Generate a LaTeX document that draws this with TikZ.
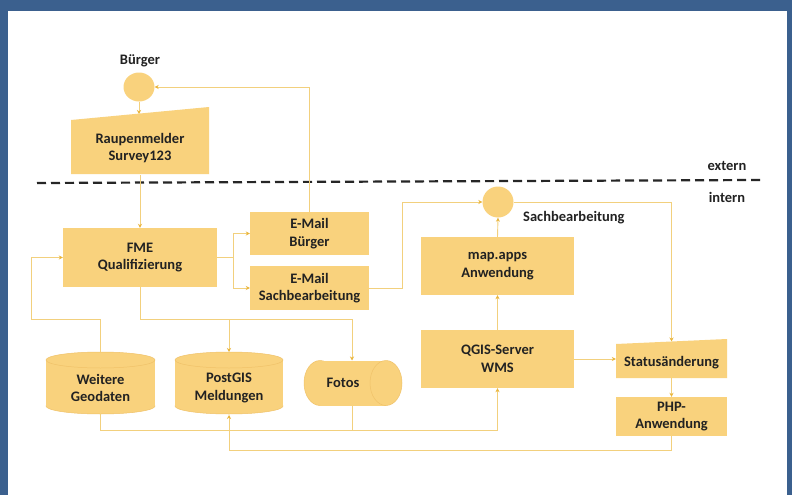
\documentclass[tikz,border=0pt]{standalone}
\usepackage{fontspec}
\setmainfont{Carlito}
\usetikzlibrary{arrows.meta,shapes.geometric}
\definecolor{bgblue}{RGB}{59,96,142}
\definecolor{boxfill}{RGB}{249,210,125}
\definecolor{boxedge}{RGB}{240,194,105}
\definecolor{linecol}{RGB}{242,208,125}
\definecolor{tipcol}{RGB}{234,182,60}
\definecolor{txt}{RGB}{34,34,34}
\tikzset{
  box/.style={draw=none,fill=boxfill,rectangle,inner sep=0pt,align=center,
    font=\fontsize{14.5}{17.5}\selectfont\bfseries,text=txt},
  lbl/.style={inner sep=0pt,align=center,font=\fontsize{14.5}{17.5}\selectfont\bfseries,text=txt},
  conn/.style={draw=linecol,line width=0.9pt,-{Stealth[length=4pt,width=4pt,color=tipcol]}},
  plain/.style={draw=linecol,line width=0.9pt},
  cylfill/.style={fill=boxfill,draw=boxedge,line width=0.5pt}
}
\begin{document}
\begin{tikzpicture}[x=1pt,y=-1pt]
\fill[bgblue] (0,0) rectangle (792,495);
\fill[white] (8,11) rectangle (787,495);
\useasboundingbox (0,0) rectangle (792,495);

% dashed separator
\draw[black!85,line width=2.2pt,dash pattern=on 9pt off 5pt] (37,183) -- (760,180);
\node[lbl] (ext) at (727,166) {extern};
\node[lbl] (int) at (727,197) {intern};

% Buerger
\node[lbl] (buergerlbl) at (140,61) {Bürger};
\node[fill=boxfill,ellipse,minimum width=31pt,minimum height=29pt,inner sep=0pt] (buerger) at (139,87) {};

% Raupenmelder (manual input)
\fill[boxfill] (71,120) -- (209,107) -- (209,174) -- (71,174) -- cycle;
\node[lbl,minimum width=138pt,minimum height=54pt] (raupen) at (140,148) {Raupenmelder\\Survey123};
\coordinate (raupentop) at (139,114);

% boxes
\node[box,minimum width=154pt,minimum height=59pt] (fme) at (140,257.5) {FME\\Qualifizierung};
\node[box,minimum width=119pt,minimum height=43pt] (emb) at (309.5,233.5) {E-Mail\\Bürger};
\node[box,minimum width=119pt,minimum height=44pt] (ems) at (309.5,288) {E-Mail\\Sachbearbeitung};
\node[box,minimum width=153pt,minimum height=58pt] (mapapps) at (497.5,266) {map.apps\\Anwendung};
\node[box,minimum width=153pt,minimum height=58pt] (qgis) at (497.5,359) {QGIS-Server\\WMS};
\node[box,minimum width=111pt,minimum height=39pt] (php) at (671.5,416.5) {PHP-\\Anwendung};

% Sachbearbeitung
\node[fill=boxfill,circle,minimum size=31pt,inner sep=0pt] (sach) at (498,202) {};
\node[lbl,anchor=west] (sachlbl) at (523,218) {Sachbearbeitung};

% Statusaenderung (manual input)
\fill[boxfill] (616,344) -- (727,339) -- (727,378) -- (616,378) -- cycle;
\node[lbl,minimum width=111pt,minimum height=30pt] (status) at (671.5,363) {Statusänderung};
\coordinate (stattop) at (671.5,341.5);

% cylinders: Weitere Geodaten
\filldraw[cylfill] (100.5,406) ellipse [x radius=54.5, y radius=8];
\fill[boxfill] (46,360) rectangle (155,406);
\filldraw[cylfill] (100.5,360) ellipse [x radius=54.5, y radius=8];
\node[lbl] (weitere) at (100.5,388) {Weitere\\Geodaten};
\coordinate (wtop) at (100,352);
\coordinate (wbot) at (100,414);

% PostGIS
\filldraw[cylfill] (229,406) ellipse [x radius=54, y radius=8];
\fill[boxfill] (175,360) rectangle (283,406);
\filldraw[cylfill] (229,360) ellipse [x radius=54, y radius=8];
\node[lbl] (postgis) at (229,388) {PostGIS\\Meldungen};
\coordinate (pgtop) at (229,352);
\coordinate (pgbot) at (229,415);

% Fotos (horizontal)
\filldraw[cylfill] (320,383) ellipse [x radius=16, y radius=22.5];
\fill[boxfill] (320,360.5) rectangle (386,405.5);
\filldraw[cylfill] (386,383) ellipse [x radius=16, y radius=22.5];
\node[lbl] (fotos) at (343,383) {Fotos};
\coordinate (ftop) at (352,360.5);
\coordinate (fbot) at (352,405.5);

% connectors
\draw[conn] (buerger.south) -- (raupentop);
\draw[conn] (raupen.south) -- (fme.north);
\draw[conn] (emb.north) |- (buerger.east);
\coordinate (fsplit) at (233,257.5);
\draw[plain] (fme.east) -- (fsplit);
\draw[conn] (fsplit) |- (emb.west);
\draw[conn] (fsplit) |- (ems.west);
\draw[conn] (ems.east) -- (402,288) |- (sach.west);
\draw[conn] (sach.east) -| (stattop);
\draw[conn] (mapapps.north) -- (sach.south);
\draw[conn] (qgis.north) -- (mapapps.south);
\draw[conn] (qgis.east) -- (qgis.east -| status.west);
\draw[conn] (status.south) -- (php.north);
\draw[conn] (php.south) -- (671.5,450) -| (pgbot);
\coordinate (bjoin) at (100,430);
\draw[conn] (wbot) -- (bjoin) -| (qgis.south);
\draw[plain] (fbot) -- (352,430);
\draw[conn] (wtop) -- (100,319) -| (31,257.5) -- (fme.west);
\coordinate (fmejoin) at (140,319);
\draw[conn] (fme.south) -- (fmejoin) -| (ftop);
\draw[conn] (229,319) -- (pgtop);
\end{tikzpicture}
\end{document}
